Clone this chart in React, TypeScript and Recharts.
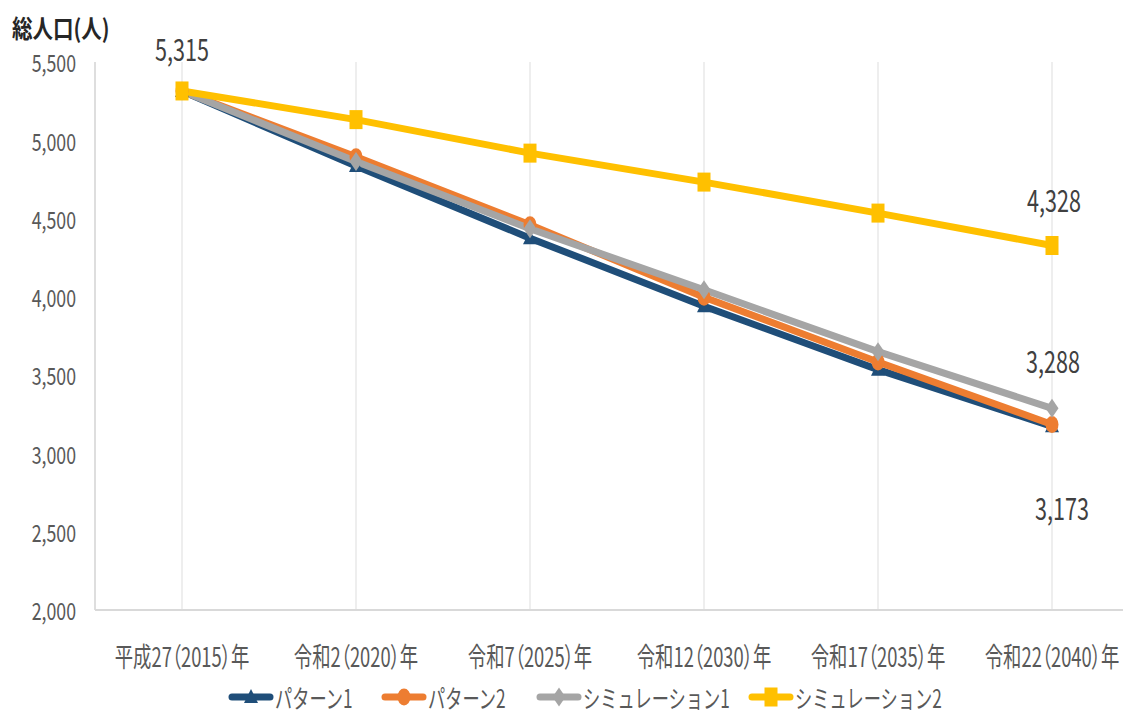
import React from 'react';
import {
    LineChart,
    Line,
    XAxis,
    YAxis,
    CartesianGrid,
    Legend,
} from 'recharts';

const categories = [
    '平成27（2015）年',
    '令和2（2020）年',
    '令和7（2025）年',
    '令和12（2030）年',
    '令和17（2035）年',
    '令和22（2040）年',
];
const pattern1 = [5315, 4835, 4375, 3940, 3535, 3173];
const pattern2 = [5315, 4895, 4460, 3998, 3584, 3185];
const simulation1 = [5315, 4865, 4435, 4045, 3650, 3288];
const simulation2 = [5315, 5132, 4918, 4733, 4535, 4328];
const yTicks = [2000, 2500, 3000, 3500, 4000, 4500, 5000, 5500];

const seriesNames = ['パターン1', 'パターン2', 'シミュレーション1', 'シミュレーション2'];

const data = categories.map((name, i) => ({
    name,
    p1: pattern1[i],
    p2: pattern2[i],
    s1: simulation1[i],
    s2: simulation2[i],
}));

const FONT = '"Noto Sans CJK JP", "Noto Sans", sans-serif';

const series = [
    { key: 'p1', name: seriesNames[0], color: '#1F4E79', marker: 'triangle' },
    { key: 'p2', name: seriesNames[1], color: '#ED7D31', marker: 'ellipse' },
    { key: 's1', name: seriesNames[2], color: '#A5A5A5', marker: 'diamond' },
    { key: 's2', name: seriesNames[3], color: '#FFC000', marker: 'square' },
];

// which points get a value label, and where it sits relative to the point
const labelSpots: Record<string, { index: number; dx: number; dy: number }[]> = {
    s2: [
        { index: 0, dx: 0, dy: -43 },
        { index: 5, dx: 2, dy: -46 },
    ],
    s1: [{ index: 5, dx: 1, dy: -48 }],
    p1: [{ index: 5, dx: 10, dy: 81 }],
};

function CText({ x, y, size, fill, sx, anchor = 'middle', weight = 'normal', palt = false, children }: any) {
    return (
        <text
            transform={`translate(${x},${y}) scale(${sx},1)`}
            fontSize={size}
            fill={fill}
            textAnchor={anchor}
            dominantBaseline="central"
            fontFamily={FONT}
            fontWeight={weight}
            style={palt ? { fontFeatureSettings: '"palt"' } : undefined}
        >
            {children}
        </text>
    );
}

function Marker({ type, cx, cy, color }: any) {
    if (cx == null || cy == null) return null;
    if (type === 'triangle') {
        return <polygon points={`${cx},${cy - 8} ${cx + 7},${cy + 6} ${cx - 7},${cy + 6}`} fill={color} />;
    }
    if (type === 'ellipse') {
        return <ellipse cx={cx} cy={cy} rx={6.5} ry={8.5} fill={color} />;
    }
    if (type === 'diamond') {
        return <polygon points={`${cx},${cy - 9.5} ${cx + 6.5},${cy} ${cx},${cy + 9.5} ${cx - 6.5},${cy}`} fill={color} />;
    }
    return <rect x={cx - 6.5} y={cy - 9.5} width={13} height={19} fill={color} />;
}

function YTick({ x, y, payload }: any) {
    return (
        <CText x={x} y={y} size={24} sx={0.74} fill="#595959" anchor="end">
            {payload.value.toLocaleString('en-US')}
        </CText>
    );
}

function XTick({ x, y, payload }: any) {
    return (
        <CText x={x} y={y + 45} size={27} sx={0.68} fill="#595959" palt>
            {payload.value}
        </CText>
    );
}

function makeLabel(key: string) {
    return (props: any) => {
        const { x, y, index, value } = props;
        const spot = (labelSpots[key] || []).find((s) => s.index === index);
        if (!spot) return null;
        return (
            <CText key={`${key}-${index}`} x={x + spot.dx} y={y + spot.dy} size={30} sx={0.72} fill="#404040">
                {Number(value).toLocaleString('en-US')}
            </CText>
        );
    };
}

const legendStarts = [232, 385, 540, 752];

function LegendContent() {
    return (
        <svg width={1123} height={42} style={{ display: 'block' }}>
            {series.map((s, i) => {
                const x0 = legendStarts[i];
                return (
                    <g key={s.key}>
                        <line x1={x0} y1={22} x2={x0 + 38} y2={22} stroke={s.color} strokeWidth={7} strokeLinecap="round" />
                        <Marker type={s.marker} cx={x0 + 19} cy={22} color={s.color} />
                        <CText x={x0 + 43} y={22} size={25} sx={0.69} fill="#595959" anchor="start">
                            {s.name}
                        </CText>
                    </g>
                );
            })}
        </svg>
    );
}

export default function App() {
    return (
        <div style={{ position: 'absolute', left: 0, top: 0, width: 1123, height: 717, overflow: 'hidden', background: '#fff' }}>
            <div
                style={{
                    position: 'absolute',
                    left: 12,
                    top: 12,
                    fontFamily: FONT,
                    fontSize: 25,
                    fontWeight: 700,
                    color: '#262626',
                    transform: 'scaleX(0.82)',
                    transformOrigin: 'left top',
                    whiteSpace: 'nowrap',
                    lineHeight: '30px',
                }}
            >
                総人口(人)
            </div>
            <LineChart width={1160} height={717} data={data} margin={{ top: 62, right: 21, left: 0, bottom: 0 }}>
                <CartesianGrid horizontal={false} stroke="#e8e8e8" strokeWidth={1.5} />
                <XAxis
                    dataKey="name"
                    padding={{ left: 87, right: 87 }}
                    height={65}
                    tick={<XTick />}
                    tickLine={false}
                    tickSize={0}
                    tickMargin={0}
                    axisLine={{ stroke: '#d9d9d9', strokeWidth: 2 }}
                    interval={0}
                />
                <YAxis
                    width={95}
                    domain={[2000, 5500]}
                    ticks={yTicks}
                    tick={<YTick />}
                    tickLine={false}
                    tickSize={0}
                    tickMargin={19}
                    axisLine={{ stroke: '#d9d9d9', strokeWidth: 1.5 }}
                    interval={0}
                />
                <Legend verticalAlign="bottom" content={<LegendContent />} wrapperStyle={{ left: 0, bottom: 0, width: 1123, height: 42 }} />
                {series.map((s) => (
                    <Line
                        key={s.key}
                        type="linear"
                        dataKey={s.key}
                        name={s.name}
                        stroke={s.color}
                        strokeWidth={7}
                        dot={(p: any) => <Marker key={`${s.key}-${p.index}`} type={s.marker} cx={p.cx} cy={p.cy} color={s.color} />}
                        activeDot={false}
                        label={makeLabel(s.key)}
                        isAnimationActive={false}
                    />
                ))}
            </LineChart>
        </div>
    );
}
